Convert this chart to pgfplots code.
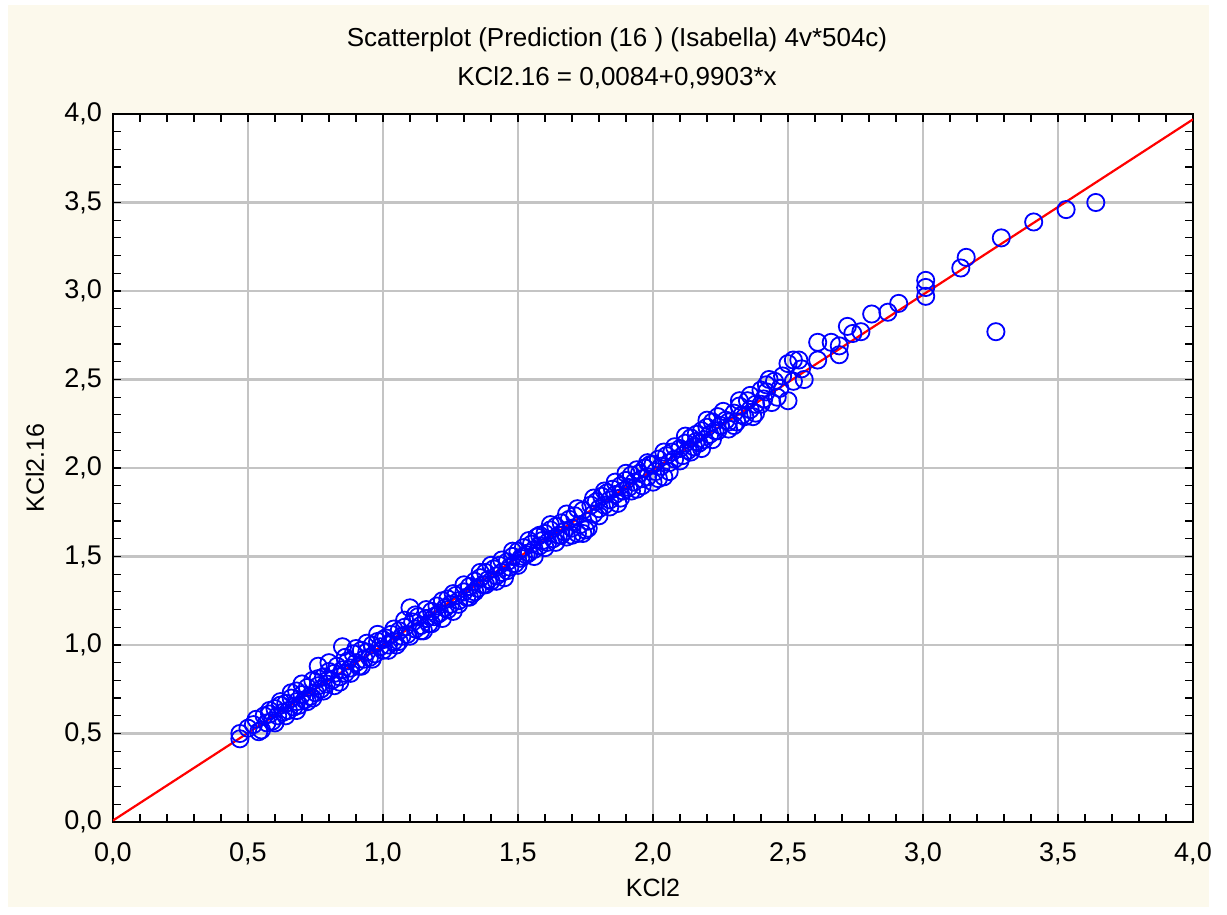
\documentclass[border=0pt]{standalone}
\usepackage{fontspec}
\setmainfont{Liberation Sans}
\usepackage{pgfplots}
\pgfplotsset{compat=1.18}
\usetikzlibrary{backgrounds}
\definecolor{paper}{HTML}{FCF9EC}
\definecolor{gridgray}{HTML}{C4C4C4}

\begin{document}
\begin{tikzpicture}
\begin{axis}[
  scale only axis, width=540pt, height=354pt,
  xmin=0, xmax=4, ymin=0, ymax=4,
  xtick distance=0.5, ytick distance=0.5,
  minor tick num=4,
  tick align=inside,
  major tick length=4pt, minor tick length=4pt,
  grid=major, major grid style={gridgray, line width=1.1pt},
  axis line style={line width=0.9pt},
  tick style={black, line width=0.6pt},
  axis background/.style={fill=white},
  tick label style={font=\fontsize{13.5}{15}\selectfont},
  xticklabel style={yshift=-7pt},
  yticklabel style={xshift=-2pt},
  xlabel={KCl2}, ylabel={KCl2.16},
  label style={font=\fontsize{12.5}{14}\selectfont},
  xlabel style={at={(axis description cs:0.5,0)}, anchor=center, yshift=-33pt},
  ylabel style={at={(axis description cs:0,0.5)}, anchor=center, xshift=0pt, yshift=39pt},
  /pgf/number format/use comma,
  /pgf/number format/fixed,
  /pgf/number format/fixed zerofill,
  /pgf/number format/precision=1,
  /pgf/number format/assume math mode=true,
]
\coordinate (SW) at (rel axis cs:0,0);
\addplot[only marks, mark=o, mark size=4.3pt, blue, mark options={line width=0.9pt}] table {
x y
0.47 0.47
0.47 0.50
0.52 0.55
0.53 0.58
0.55 0.52
0.56 0.60
0.57 0.56
0.58 0.61
0.59 0.57
0.60 0.64
0.61 0.60
0.62 0.66
0.63 0.62
0.64 0.67
0.65 0.63
0.66 0.70
0.67 0.65
0.68 0.74
0.68 0.68
0.69 0.66
0.70 0.72
0.71 0.69
0.72 0.76
0.73 0.71
0.74 0.80
0.75 0.73
0.76 0.88
0.76 0.77
0.77 0.75
0.78 0.82
0.79 0.78
0.80 0.85
0.81 0.80
0.82 0.77
0.83 0.88
0.84 0.82
0.85 0.99
0.85 0.86
0.86 0.84
0.87 0.91
0.88 0.87
0.89 0.95
0.90 0.90
0.91 0.88
0.92 0.97
0.93 0.92
0.94 0.96
0.95 0.93
0.96 1.00
0.97 0.95
0.98 1.06
0.99 0.99
1.00 0.97
1.01 1.04
1.02 1.00
1.03 1.06
1.04 1.02
1.05 1.00
1.06 1.08
1.07 1.05
1.08 1.10
1.09 1.06
1.10 1.21
1.11 1.13
1.12 1.09
1.13 1.16
1.14 1.11
1.15 1.08
1.16 1.15
1.17 1.12
1.18 1.19
1.19 1.16
1.20 1.22
1.21 1.18
1.22 1.15
1.23 1.21
1.24 1.26
1.25 1.23
1.26 1.19
1.27 1.28
1.28 1.25
1.30 1.30
1.31 1.27
1.32 1.33
1.33 1.29
1.34 1.36
1.35 1.32
1.36 1.38
1.37 1.34
1.38 1.41
1.39 1.37
1.40 1.36
1.41 1.43
1.42 1.39
1.43 1.45
1.44 1.41
1.45 1.38
1.46 1.47
1.47 1.44
1.48 1.50
1.49 1.46
1.50 1.53
1.51 1.49
1.52 1.55
1.53 1.51
1.54 1.52
1.55 1.57
1.56 1.54
1.57 1.61
1.58 1.56
1.59 1.59
1.60 1.63
1.61 1.58
1.62 1.65
1.63 1.60
1.64 1.67
1.65 1.62
1.66 1.69
1.67 1.64
1.68 1.61
1.69 1.71
1.70 1.66
1.71 1.73
1.72 1.63
1.73 1.68
1.74 1.76
1.75 1.65
1.76 1.70
1.77 1.79
1.78 1.74
1.79 1.81
1.80 1.77
1.81 1.84
1.82 1.79
1.83 1.86
1.84 1.82
1.85 1.88
1.86 1.85
1.87 1.80
1.88 1.90
1.89 1.87
1.90 1.93
1.91 1.89
1.92 1.96
1.93 1.92
1.94 1.88
1.95 1.97
1.96 1.94
1.97 2.00
1.98 1.95
1.99 2.02
2.00 1.92
2.01 1.98
2.02 2.05
2.03 2.01
2.04 1.95
2.05 2.07
2.06 2.03
2.07 2.09
2.08 2.05
2.10 2.11
2.11 2.07
2.12 2.14
2.13 2.10
2.14 2.17
2.15 2.12
2.16 2.19
2.17 2.14
2.18 2.21
2.19 2.16
2.20 2.23
2.21 2.19
2.22 2.26
2.23 2.21
2.24 2.29
2.25 2.24
2.27 2.27
2.28 2.22
2.30 2.31
2.31 2.26
2.32 2.35
2.33 2.30
2.35 2.38
2.36 2.33
2.37 2.29
2.38 2.36
2.40 2.44
2.41 2.39
2.42 2.47
2.43 2.50
2.44 2.37
2.45 2.49
2.47 2.45
2.50 2.38
2.50 2.59
2.52 2.61
2.54 2.61
2.56 2.50
2.61 2.61
2.61 2.71
2.66 2.71
2.69 2.64
2.69 2.69
2.72 2.80
2.74 2.76
2.77 2.77
2.81 2.87
2.87 2.88
2.91 2.93
3.01 3.06
3.01 3.02
3.01 2.97
3.16 3.19
3.14 3.13
3.27 2.77
3.29 3.30
3.41 3.39
3.53 3.46
3.64 3.50
0.50 0.53
0.54 0.51
0.58 0.63
0.60 0.56
0.62 0.68
0.64 0.60
0.66 0.73
0.68 0.63
0.70 0.78
0.72 0.68
0.74 0.70
0.76 0.81
0.78 0.74
0.80 0.90
0.82 0.84
0.84 0.79
0.86 0.93
0.88 0.84
0.90 0.98
0.92 0.88
0.94 1.01
0.96 0.92
0.98 1.02
1.00 1.03
1.02 0.97
1.04 1.09
1.06 1.02
1.08 1.14
1.10 1.05
1.12 1.17
1.14 1.08
1.16 1.20
1.18 1.12
1.20 1.17
1.22 1.25
1.24 1.20
1.26 1.29
1.28 1.23
1.30 1.34
1.32 1.27
1.34 1.30
1.36 1.41
1.38 1.34
1.40 1.45
1.42 1.36
1.44 1.48
1.46 1.42
1.48 1.53
1.50 1.45
1.52 1.50
1.54 1.59
1.56 1.50
1.58 1.62
1.60 1.55
1.62 1.68
1.64 1.58
1.66 1.62
1.68 1.74
1.70 1.62
1.72 1.77
1.74 1.63
1.76 1.66
1.78 1.83
1.80 1.73
1.82 1.87
1.84 1.78
1.86 1.92
1.88 1.83
1.90 1.97
1.92 1.87
1.94 1.99
1.96 1.90
1.98 2.03
2.00 2.02
2.02 1.94
2.04 2.09
2.06 1.98
2.08 2.12
2.10 2.04
2.12 2.18
2.14 2.09
2.16 2.15
2.18 2.11
2.20 2.27
2.22 2.16
2.24 2.21
2.26 2.32
2.28 2.26
2.30 2.24
2.32 2.38
2.34 2.29
2.36 2.41
2.38 2.31
2.40 2.36
2.42 2.43
2.46 2.40
2.48 2.52
2.52 2.49
2.55 2.56
};
\addplot[red, line width=1.1pt] coordinates {(0,0.0084) (4,3.9696)};
\end{axis}
\path (SW) ++(252pt,391pt) node {\fontsize{13}{15}\selectfont Scatterplot (Prediction (16 ) (Isabella) 4v*504c)};
\path (SW) ++(252pt,372pt) node {\fontsize{13}{15}\selectfont KCl2.16 = 0,0084+0,9903*x};
\begin{scope}[on background layer]
\fill[white] (SW) ++(-56.5pt,-46.5pt) rectangle ++(613.5pt,457.5pt);
\fill[paper] (SW) ++(-52.5pt,-42.5pt) rectangle ++(600.5pt,451pt);
\end{scope}
\pgfresetboundingbox
\path (SW) ++(-56.5pt,-46.5pt) rectangle ++(613.5pt,457.5pt);
\end{tikzpicture}
\end{document}
